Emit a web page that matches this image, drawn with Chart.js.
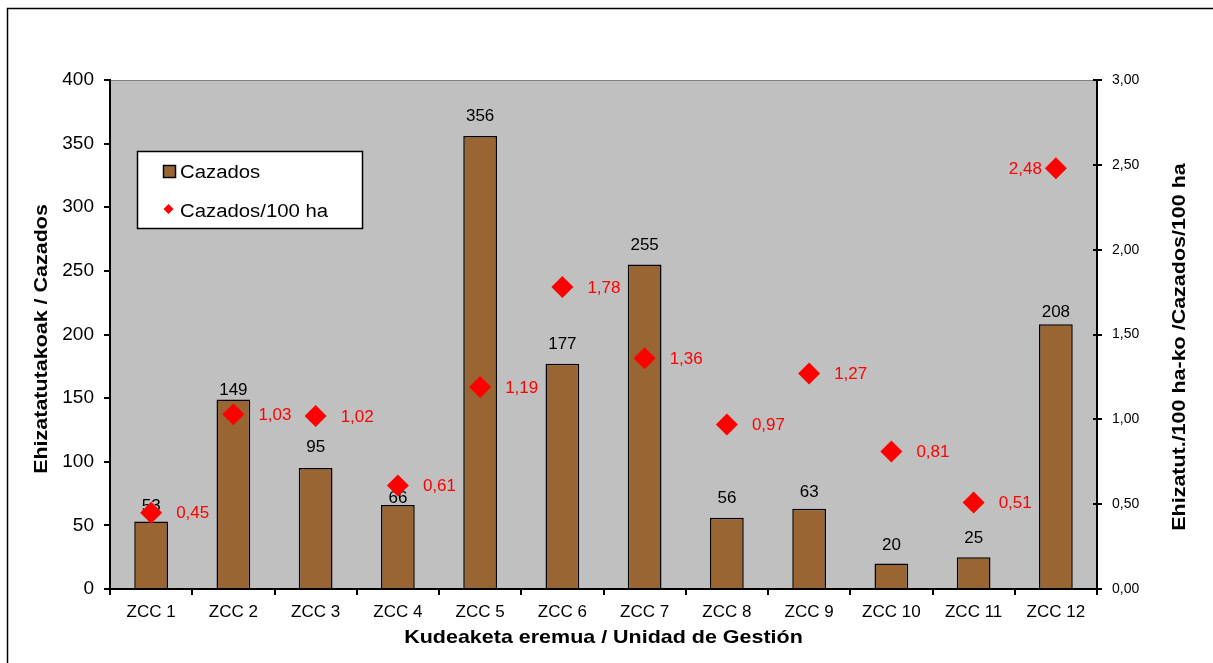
<!DOCTYPE html>
<html>
<head>
<meta charset="utf-8">
<script src="https://cdn.jsdelivr.net/npm/chart.js@4.4.0/dist/chart.umd.min.js"></script>
<style>
  body { margin: 0; background: #fff; }
</style>
</head>
<body>
<canvas id="myChart" width="1213" height="663"></canvas>
<script>
// data
const zones = ['ZCC 1', 'ZCC 2', 'ZCC 3', 'ZCC 4', 'ZCC 5', 'ZCC 6', 'ZCC 7', 'ZCC 8', 'ZCC 9', 'ZCC 10', 'ZCC 11', 'ZCC 12'];
const cazados = [53, 149, 95, 66, 356, 177, 255, 56, 63, 20, 25, 208];
const cazados100 = [0.45, 1.03, 1.02, 0.61, 1.19, 1.78, 1.36, 0.97, 1.27, 0.81, 0.51, 2.48];
const leftTicks = [0, 50, 100, 150, 200, 250, 300, 350, 400];
const rightTicks = [0, 0.5, 1, 1.5, 2, 2.5, 3];

const FONT = '"Liberation Sans", Arial, sans-serif';
const STRETCH = 1.13; // excel-like wide text
// the bar labels were nudged by hand in the original, px above bar top
const labelLift = [11, 4, 16, 2.5, 15, 15, 15, 15, 12, 14, 14, 7];
function comma(v) { return v.toFixed(2).replace('.', ','); }

// text drawn a bit wider than the font, centred on (x, y)
function wideText(ctx, txt, x, y, rot) {
  ctx.save();
  ctx.translate(x, y);
  if (rot) ctx.rotate(rot);
  ctx.scale(STRETCH, 1);
  ctx.fillText(txt, 0, 0);
  ctx.restore();
}

const decor = {
  id: 'decor',
  beforeDraw(chart) {
    const ctx = chart.ctx, a = chart.chartArea;
    ctx.save();
    ctx.fillStyle = '#fff';
    ctx.fillRect(0, 0, chart.width, chart.height);
    // outer frame
    ctx.strokeStyle = '#000';
    ctx.lineWidth = 1.5;
    ctx.strokeRect(7.5, 8.5, chart.width + 10, chart.height + 10);
    // plot area
    ctx.fillStyle = '#C0C0C0';
    ctx.fillRect(a.left, a.top, a.right - a.left, a.bottom - a.top);
    ctx.strokeStyle = '#808080';
    ctx.lineWidth = 1;
    ctx.strokeRect(a.left + 0.5, a.top + 0.5, a.right - a.left - 1, a.bottom - a.top - 1);
    ctx.restore();
  },
  afterDatasetDraw(chart, args) {
    const ctx = chart.ctx;
    ctx.save();
    ctx.font = '17px ' + FONT;
    if (args.index === 0) {
      ctx.fillStyle = '#000';
      ctx.textAlign = 'center';
      ctx.textBaseline = 'alphabetic';
      args.meta.data.forEach((el, i) => ctx.fillText(String(cazados[i]), el.x, el.y - labelLift[i]));
    } else {
      ctx.fillStyle = '#FF0000';
      ctx.textBaseline = 'middle';
      const last = args.meta.data.length - 1;
      args.meta.data.forEach((el, i) => {
        if (i === last) {
          ctx.textAlign = 'right';
          ctx.fillText(comma(cazados100[i]), el.x - 14, el.y + 1);
        } else {
          ctx.textAlign = 'left';
          ctx.fillText(comma(cazados100[i]), el.x + 25, el.y + 1);
        }
      });
    }
    ctx.restore();
  },
  afterDraw(chart) {
    const ctx = chart.ctx, a = chart.chartArea;
    ctx.save();
    // inner half of the right axis ticks
    const y1 = chart.scales.y1;
    ctx.strokeStyle = '#000';
    ctx.lineWidth = 2;
    rightTicks.forEach(v => {
      const py = Math.round(y1.getPixelForValue(v));
      ctx.beginPath();
      ctx.moveTo(a.right - 4, py);
      ctx.lineTo(a.right, py);
      ctx.stroke();
    });
    // axis titles
    ctx.fillStyle = '#000';
    ctx.font = 'bold 19px ' + FONT;
    ctx.textAlign = 'center';
    ctx.textBaseline = 'middle';
    wideText(ctx, 'Kudeaketa eremua / Unidad de Gestión', (a.left + a.right) / 2, 638);
    wideText(ctx, 'Ehizatatutakoak / Cazados', 42, 339, -Math.PI / 2);
    wideText(ctx, 'Ehizatut./100 ha-ko /Cazados/100 ha', 1180, 347, -Math.PI / 2);
    // legend
    ctx.fillStyle = '#fff';
    ctx.fillRect(137, 151, 226, 78);
    ctx.strokeStyle = '#000';
    ctx.lineWidth = 1.5;
    ctx.strokeRect(137.5, 151.5, 225, 77);
    ctx.fillStyle = '#996633';
    ctx.fillRect(164, 166, 12, 12);
    ctx.lineWidth = 1.5;
    ctx.strokeRect(163.5, 165.5, 12, 12);
    ctx.fillStyle = '#FF0000';
    ctx.beginPath();
    ctx.moveTo(168.5, 204); ctx.lineTo(173.5, 209); ctx.lineTo(168.5, 214); ctx.lineTo(163.5, 209);
    ctx.closePath();
    ctx.fill();
    ctx.fillStyle = '#000';
    ctx.font = '18px ' + FONT;
    ctx.textAlign = 'left';
    ctx.save();
    ctx.translate(180, 173);
    ctx.scale(STRETCH, 1);
    ctx.fillText('Cazados', 0, 0);
    ctx.restore();
    ctx.save();
    ctx.translate(180, 212);
    ctx.scale(STRETCH, 1);
    ctx.fillText('Cazados/100 ha', 0, 0);
    ctx.restore();
    ctx.restore();
  }
};

const data = {
  labels: zones,
  datasets: [
    {
      type: 'bar',
      label: 'Cazados',
      data: cazados,
      yAxisID: 'y',
      backgroundColor: '#996633',
      borderColor: '#000000',
      borderWidth: 1.5,
      categoryPercentage: 1,
      barPercentage: 0.41,
      order: 1
    },
    {
      type: 'line',
      label: 'Cazados/100 ha',
      data: cazados100,
      yAxisID: 'y1',
      showLine: false,
      pointStyle: 'rectRot',
      pointRadius: 11,
      pointBackgroundColor: '#FF0000',
      pointBorderWidth: 0,
      order: 0
    }
  ]
};

const config = {
  type: 'bar',
  data: data,
  options: {
    responsive: false,
    animation: false,
    layout: { padding: { top: 80, left: 0, right: 0, bottom: 0 } },
    plugins: { legend: { display: false }, tooltip: { enabled: false } },
    scales: {
      x: {
        grid: { offset: true, drawOnChartArea: false, tickLength: 6, color: '#000', lineWidth: 2 },
        border: { color: '#000', width: 2 },
        ticks: { color: '#000', font: { family: FONT, size: 17 }, padding: 7, maxRotation: 0 },
        afterFit: s => { s.height = 74; }
      },
      y: {
        position: 'left',
        min: 0, max: 400,
        afterBuildTicks: s => { s.ticks = leftTicks.map(v => ({ value: v })); },
        grid: { drawOnChartArea: false, tickLength: 6, color: '#000', lineWidth: 2 },
        border: { color: '#000', width: 2 },
        ticks: { color: '#000', font: { family: FONT, size: 19 }, padding: 10 },
        afterFit: s => { s.width = 110; }
      },
      y1: {
        position: 'right',
        min: 0, max: 3,
        afterBuildTicks: s => { s.ticks = rightTicks.map(v => ({ value: v })); },
        grid: { drawOnChartArea: false, tickLength: 5, color: '#000', lineWidth: 2 },
        border: { color: '#000', width: 2 },
        ticks: { color: '#000', font: { family: FONT, size: 14 }, padding: 10, callback: v => comma(v) },
        afterFit: s => { s.width = 116; }
      }
    }
  },
  plugins: [decor]
};

const myChart = new Chart(document.getElementById('myChart'), config);
</script>
</body>
</html>
